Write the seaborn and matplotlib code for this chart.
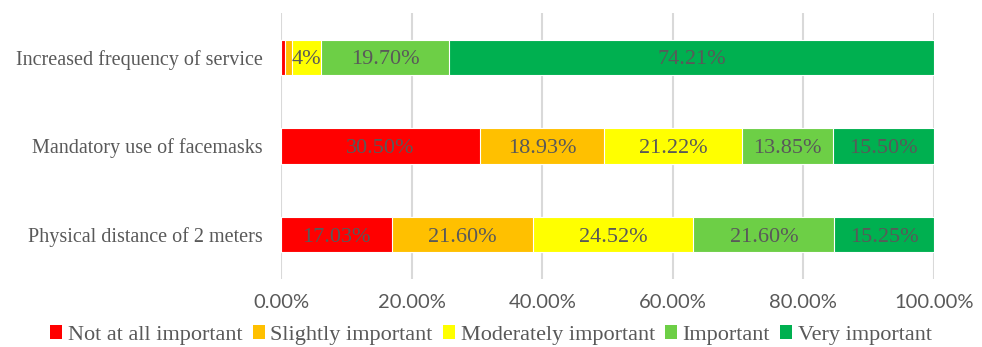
import matplotlib
matplotlib.use("Agg")
import matplotlib.pyplot as plt
from matplotlib.patches import Patch
import seaborn as sns
import pandas as pd
import numpy as np

categories = ["Increased frequency of service",
              "Mandatory use of facemasks",
              "Physical distance of 2 meters"]
levels = ["Not at all important", "Slightly important", "Moderately important",
          "Important", "Very important"]
not_at_all = [0.68, 30.50, 17.03]
slightly = [1.02, 18.93, 21.60]
moderately = [4.39, 21.22, 24.52]
important = [19.70, 13.85, 21.60]
very = [74.21, 15.50, 15.25]
seg_labels = [
    ["", "", "4%", "19.70%", "74.21%"],
    ["30.50%", "18.93%", "21.22%", "13.85%", "15.50%"],
    ["17.03%", "21.60%", "24.52%", "21.60%", "15.25%"],
]
xticks = [0, 20, 40, 60, 80, 100]
xtick_labels = ["0.00%", "20.00%", "40.00%", "60.00%", "80.00%", "100.00%"]
colors = ["#FF0000", "#FFC000", "#FFFF00", "#6DCF46", "#00B050"]

sns.set_theme(style="white")
plt.rcParams["font.family"] = ["Liberation Serif", "DejaVu Serif"]

series = [not_at_all, slightly, moderately, important, very]
vals = np.array(series)  # shape (5, 3)
cum = np.cumsum(vals, axis=0)

fig = plt.figure(figsize=(9.82, 3.47), dpi=100)
ax = fig.add_axes([0.2862, 0.196, 0.9511 - 0.2862, 0.9625 - 0.196])

# draw cumulative bars from largest to smallest so they stack
for i in range(len(levels) - 1, -1, -1):
    df = pd.DataFrame({"category": categories, "value": cum[i]})
    sns.barplot(data=df, x="value", y="category", orient="h", color=colors[i],
                saturation=1, width=0.4, ax=ax, edgecolor="white", linewidth=0.8,
                zorder=3)

# segment labels
for j in range(len(categories)):
    for i in range(len(levels)):
        lab = seg_labels[j][i]
        if not lab:
            continue
        start = cum[i][j] - vals[i][j]
        ax.text(start + vals[i][j] / 2, j + 0.08, lab, ha="center", va="baseline",
                fontsize=16, color="#595959", zorder=5,
                family=["Liberation Serif"])

ax.set_xlim(0, 100)
ax.set_ylim(2.5, -0.5)
ax.set_xticks(xticks)
ax.set_xticklabels(xtick_labels, family=["Lato", "DejaVu Sans"], fontsize=14.5,
                   color="#595959")
ax.tick_params(axis="x", pad=11, length=0)
ax.tick_params(axis="y", length=0, pad=13, labelsize=14.5, labelcolor="#595959")
ax.set_xlabel("")
ax.set_ylabel("")
ax.grid(axis="x", color="#D9D9D9", linewidth=1.5, zorder=0)
ax.set_axisbelow(True)
for s in ax.spines.values():
    s.set_visible(False)

handles = [Patch(facecolor=c, edgecolor="none") for c in colors]
fig.legend(handles, levels, loc="lower center", bbox_to_anchor=(0.5, -0.052),
           ncol=5, frameon=False, fontsize=16, handlelength=0.55,
           handleheight=0.55, handletextpad=0.25, columnspacing=0.45,
           labelcolor="#595959")

fig.savefig("out.png", dpi=100)
